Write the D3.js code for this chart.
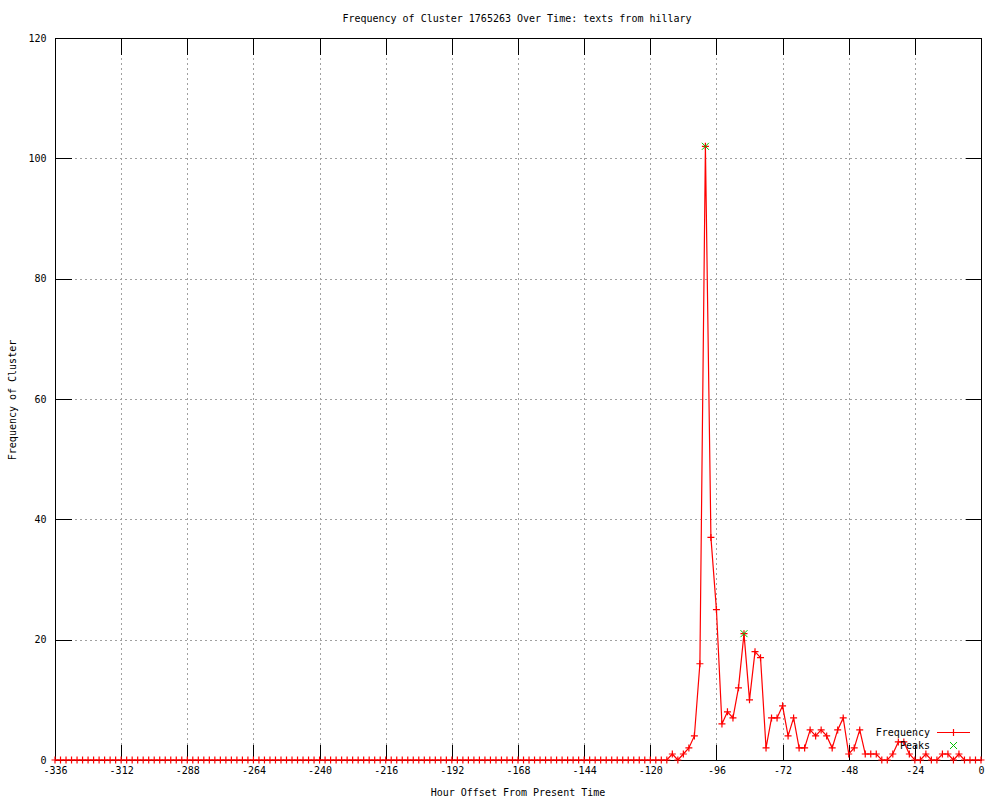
<!DOCTYPE html>
<html>
<head>
<meta charset="utf-8">
<script src="https://cdn.jsdelivr.net/npm/d3@7"></script>
<style>
  html, body { margin: 0; padding: 0; background: #fff; }
  text { font-family: "DejaVu Sans Mono", monospace; font-size: 10px; fill: #000; }
</style>
</head>
<body>
<svg id="chart" width="1000" height="800"></svg>
<script>
// ---- data ----
const title = "Frequency of Cluster 1765263 Over Time: texts from hillary";
const xLabel = "Hour Offset From Present Time";
const yLabel = "Frequency of Cluster";
const xTicks = [-336, -312, -288, -264, -240, -216, -192, -168, -144, -120, -96, -72, -48, -24, 0];
const yTicks = [0, 20, 40, 60, 80, 100, 120];
const hourStart = -336, hourStep = 2;
const frequency = [
  0,0,0,0,0,0,0,0,0,0,0,0,0,0,0,0,0,0,0,0,0,0,0,0,0,0,0,0,
  0,0,0,0,0,0,0,0,0,0,0,0,0,0,0,0,0,0,0,0,0,0,0,0,0,0,0,0,
  0,0,0,0,0,0,0,0,0,0,0,0,0,0,0,0,0,0,0,0,0,0,0,0,0,0,0,0,
  0,0,0,0,0,0,0,0,0,0,0,0,0,0,0,0,0,0,0,0,0,0,0,0,0,0,0,0,
  1,0,1,2,4,16,102,37,25,6,8,7,12,21,10,18,17,2,7,7,9,4,7,2,2,5,4,5,4,2,5,7,
  1,2,5,1,1,1,0,0,1,3,3,1,0,0,1,0,0,1,1,0,1,0,0,0,0
];
const peakHours = [-100, -86];
const peakValues = [102, 21];
const seriesNames = ["Frequency", "Peaks"];

// ---- layout ----
const L = 55, R = 981, T = 38, B = 760;
const svg = d3.select("#chart");
const x = d3.scaleLinear().domain([-336, 0]).range([L, R]);
const y = d3.scaleLinear().domain([0, 120]).range([B, T]);
const pts = frequency.map((v, i) => ({h: hourStart + i * hourStep, v}));

// grid
const grid = svg.append("g").attr("stroke", "#a0a0a0").attr("stroke-width", 1)
  .attr("stroke-dasharray", "2,3").attr("shape-rendering", "crispEdges");
xTicks.slice(1, -1).forEach(t => grid.append("line")
  .attr("x1", Math.round(x(t)) + 0.5).attr("x2", Math.round(x(t)) + 0.5)
  .attr("y1", T).attr("y2", B));
yTicks.slice(1, -1).forEach(t => grid.append("line")
  .attr("y1", Math.round(y(t)) + 0.5).attr("y2", Math.round(y(t)) + 0.5)
  .attr("x1", L).attr("x2", R));

// axes (ticks inward, mirrored)
const tickLen = 16;
const axB = svg.append("g").attr("transform", `translate(0,${B + 0.5})`)
  .call(d3.axisBottom(x).tickValues(xTicks).tickSizeInner(-tickLen).tickSizeOuter(0).tickPadding(6).tickFormat(d => String(d)));
const axT = svg.append("g").attr("transform", `translate(0,${T + 0.5})`)
  .call(d3.axisTop(x).tickValues(xTicks).tickSizeInner(-tickLen).tickSizeOuter(0).tickFormat(""));
const axL = svg.append("g").attr("transform", `translate(${L + 0.5},0)`)
  .call(d3.axisLeft(y).tickValues(yTicks).tickSizeInner(-tickLen).tickSizeOuter(0).tickPadding(9));
const axR = svg.append("g").attr("transform", `translate(${R + 0.5},0)`)
  .call(d3.axisRight(y).tickValues(yTicks).tickSizeInner(-tickLen).tickSizeOuter(0).tickFormat(""));
[axB, axT, axL, axR].forEach(a => {
  a.select(".domain").remove();
  a.selectAll("line").attr("stroke", "#000").attr("shape-rendering", "crispEdges");
  a.selectAll("text").style("font-family", "DejaVu Sans Mono, monospace").style("font-size", "10px");
});
axB.selectAll("text").attr("dy", "0.71em");

// border
svg.append("rect").attr("x", L + 0.5).attr("y", T + 0.5).attr("width", R - L).attr("height", B - T)
  .attr("fill", "none").attr("stroke", "#000").attr("shape-rendering", "crispEdges");

// frequency line
const line = d3.line().x(d => x(d.h)).y(d => y(d.v));
svg.append("path").datum(pts).attr("d", line).attr("fill", "none").attr("stroke", "#ff0000").attr("stroke-width", 1.2);

// plus markers
const plus = (g, cx, cy, s, color) => g.append("path")
  .attr("d", `M${cx - s},${cy}H${cx + s}M${cx},${cy - s}V${cy + s}`)
  .attr("stroke", color).attr("stroke-width", 1.2).attr("fill", "none");
const cross = (g, cx, cy, s, color) => g.append("path")
  .attr("d", `M${cx - s},${cy - s}L${cx + s},${cy + s}M${cx - s},${cy + s}L${cx + s},${cy - s}`)
  .attr("stroke", color).attr("stroke-width", 1).attr("fill", "none");
const mk = svg.append("g");
pts.forEach(d => plus(mk, x(d.h), y(d.v), 3.5, "#ff0000"));

// peaks
const pk = svg.append("g");
peakHours.forEach((h, i) => cross(pk, x(h), y(peakValues[i]), 3.5, "#00c000"));

// legend
const lg = svg.append("g");
lg.append("text").attr("x", 930).attr("y", 736).attr("text-anchor", "end").text(seriesNames[0]);
lg.append("line").attr("x1", 937).attr("x2", 970).attr("y1", 732.5).attr("y2", 732.5).attr("stroke", "#ff0000").attr("stroke-width", 1.2);
plus(lg, 953.5, 732.5, 3.5, "#ff0000");
lg.append("text").attr("x", 930).attr("y", 749).attr("text-anchor", "end").text(seriesNames[1]);
cross(lg, 953.5, 745.5, 3.5, "#00c000");

// titles
svg.append("text").attr("x", 517).attr("y", 22).attr("text-anchor", "middle").text(title);
svg.append("text").attr("x", 518).attr("y", 796).attr("text-anchor", "middle").text(xLabel);
svg.append("text").attr("transform", "translate(16,400) rotate(-90)").attr("text-anchor", "middle").text(yLabel);
</script>
</body>
</html>
